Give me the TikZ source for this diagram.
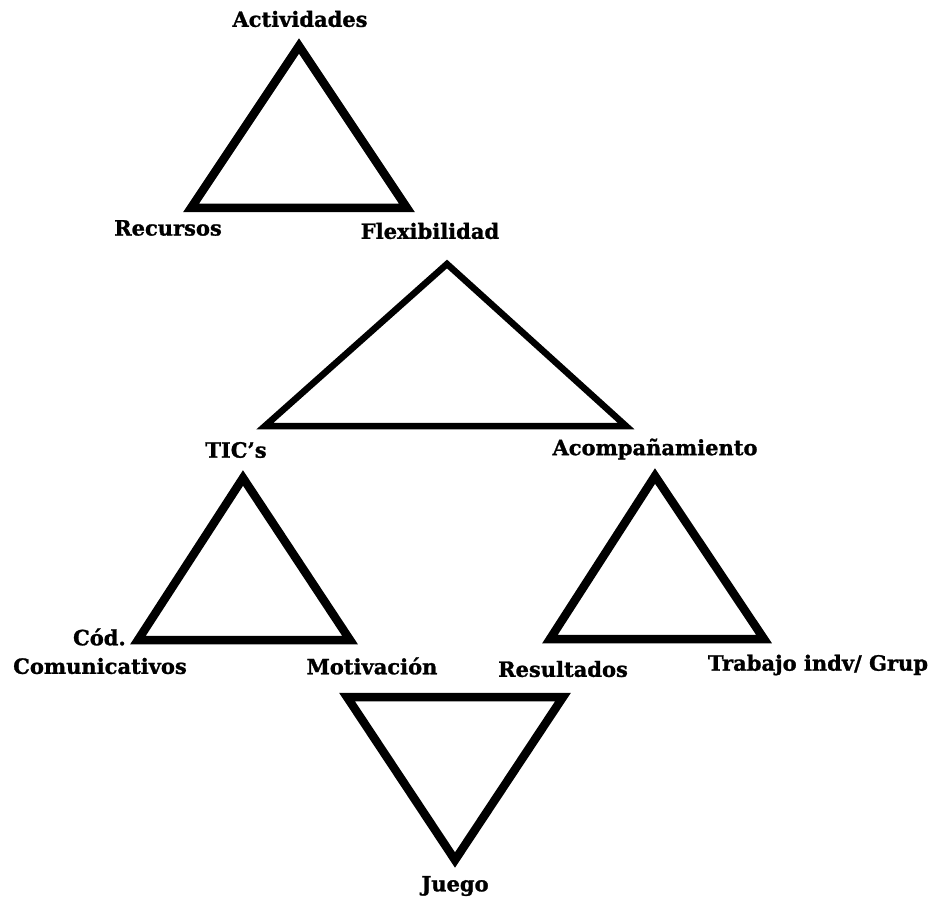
\documentclass[tikz,border=0pt]{standalone}
\usepackage{fontspec}
\setmainfont{DejaVu Serif}
\newfontfamily\lblfont[FakeBold=1.2]{DejaVu Serif Bold}
\begin{document}
\begin{tikzpicture}[x=1pt,y=-1pt,
  tri/.style={draw=black,line width=8.5pt,line join=miter,miter limit=10},
  trithin/.style={draw=black,line width=6.5pt,line join=miter,miter limit=10},
  lbl/.style={font=\lblfont\fontsize{21}{23}\selectfont,inner sep=0pt,text=black}]
\useasboundingbox[fill=white] (0,0) rectangle (933,901);
% triangle 1
\coordinate (a1) at (299,46);
\coordinate (b1) at (191,208);
\coordinate (c1) at (407,208);
\draw[tri] (a1) -- (b1) -- (c1) -- cycle;
% triangle 2
\coordinate (a2) at (447,264);
\coordinate (b2) at (265,426);
\coordinate (c2) at (626,426);
\draw[trithin] (a2) -- (b2) -- (c2) -- cycle;
% triangle 3
\coordinate (a3) at (243,478);
\coordinate (b3) at (138,640);
\coordinate (c3) at (350,640);
\draw[tri] (a3) -- (b3) -- (c3) -- cycle;
% triangle 4
\coordinate (a4) at (655,476);
\coordinate (b4) at (550,639);
\coordinate (c4) at (764,639);
\draw[tri] (a4) -- (b4) -- (c4) -- cycle;
% triangle 5
\coordinate (a5) at (455,860);
\coordinate (b5) at (347,697);
\coordinate (c5) at (563,697);
\draw[tri] (a5) -- (b5) -- (c5) -- cycle;
% labels
\node[lbl] (actividades) at (300,19) {Actividades};
\node[lbl] (recursos) at (168,228) {Recursos};
\node[lbl] (flex) at (430,231) {Flexibilidad};
\node[lbl] (tics) at (236,450) {TIC’s};
\node[lbl] (acomp) at (655,449) {Acompañamiento};
\node[lbl,anchor=east] (cod) at (126,637) {Cód.};
\node[lbl] (comun) at (100,666) {Comunicativos};
\node[lbl] (motiv) at (372,666) {Motivación};
\node[lbl] (result) at (563,669) {Resultados};
\node[lbl] (trabajo) at (818,665) {Trabajo indv/ Grup};
\node[lbl] (juego) at (455,886) {Juego};
\end{tikzpicture}
\end{document}
